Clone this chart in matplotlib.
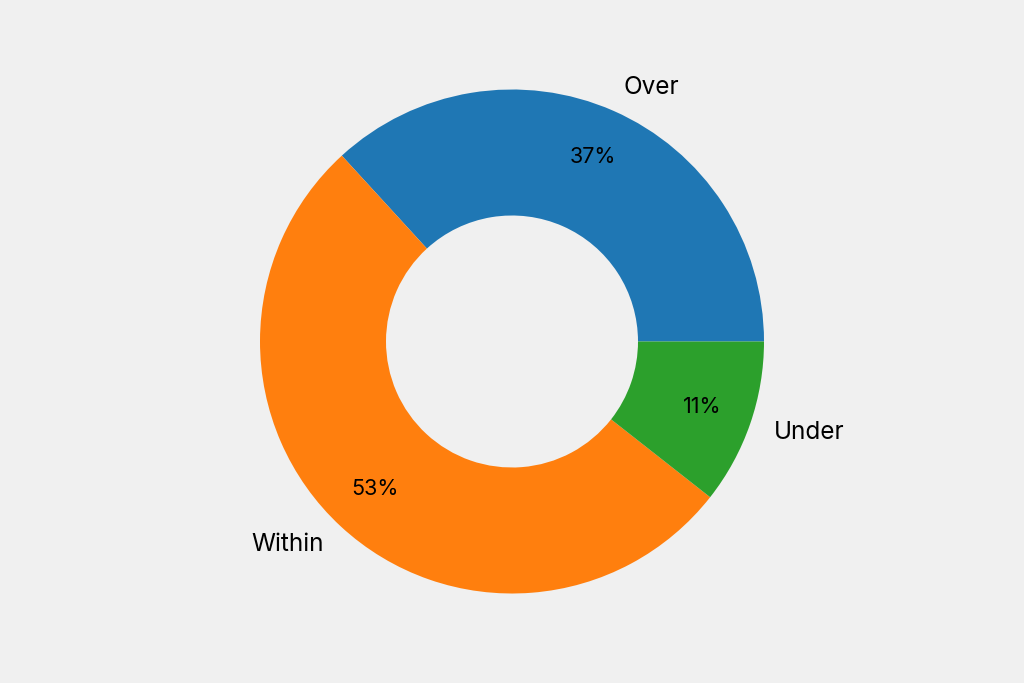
import matplotlib
matplotlib.use("Agg")
import matplotlib.pyplot as plt

labels = ["Over", "Within", "Under"]
values = [36.8, 52.6, 10.6]
colors = ["#1f77b4", "#ff7f0e", "#2ca02c"]

plt.rcParams['font.family'] = ['Inter', 'DejaVu Sans']
fig = plt.figure(figsize=(10.24, 6.83), dpi=100, facecolor="#f0f0f0")
h = 630 / 683
ax = fig.add_axes([0, (1 - h) / 2, 1, h])
ax.set_facecolor("#f0f0f0")
wedges, texts, autotexts = ax.pie(values, labels=labels, colors=colors, startangle=0,
                                  counterclock=True, autopct='%1.0f%%', pctdistance=0.8,
                                  labeldistance=1.1, wedgeprops=dict(width=0.5),
                                  textprops=dict(fontsize=17.5, color="black"))
for t in autotexts:
    t.set_fontsize(15.5)
ax.set_aspect('equal')
fig.savefig("out.png", dpi=100, facecolor="#f0f0f0")
